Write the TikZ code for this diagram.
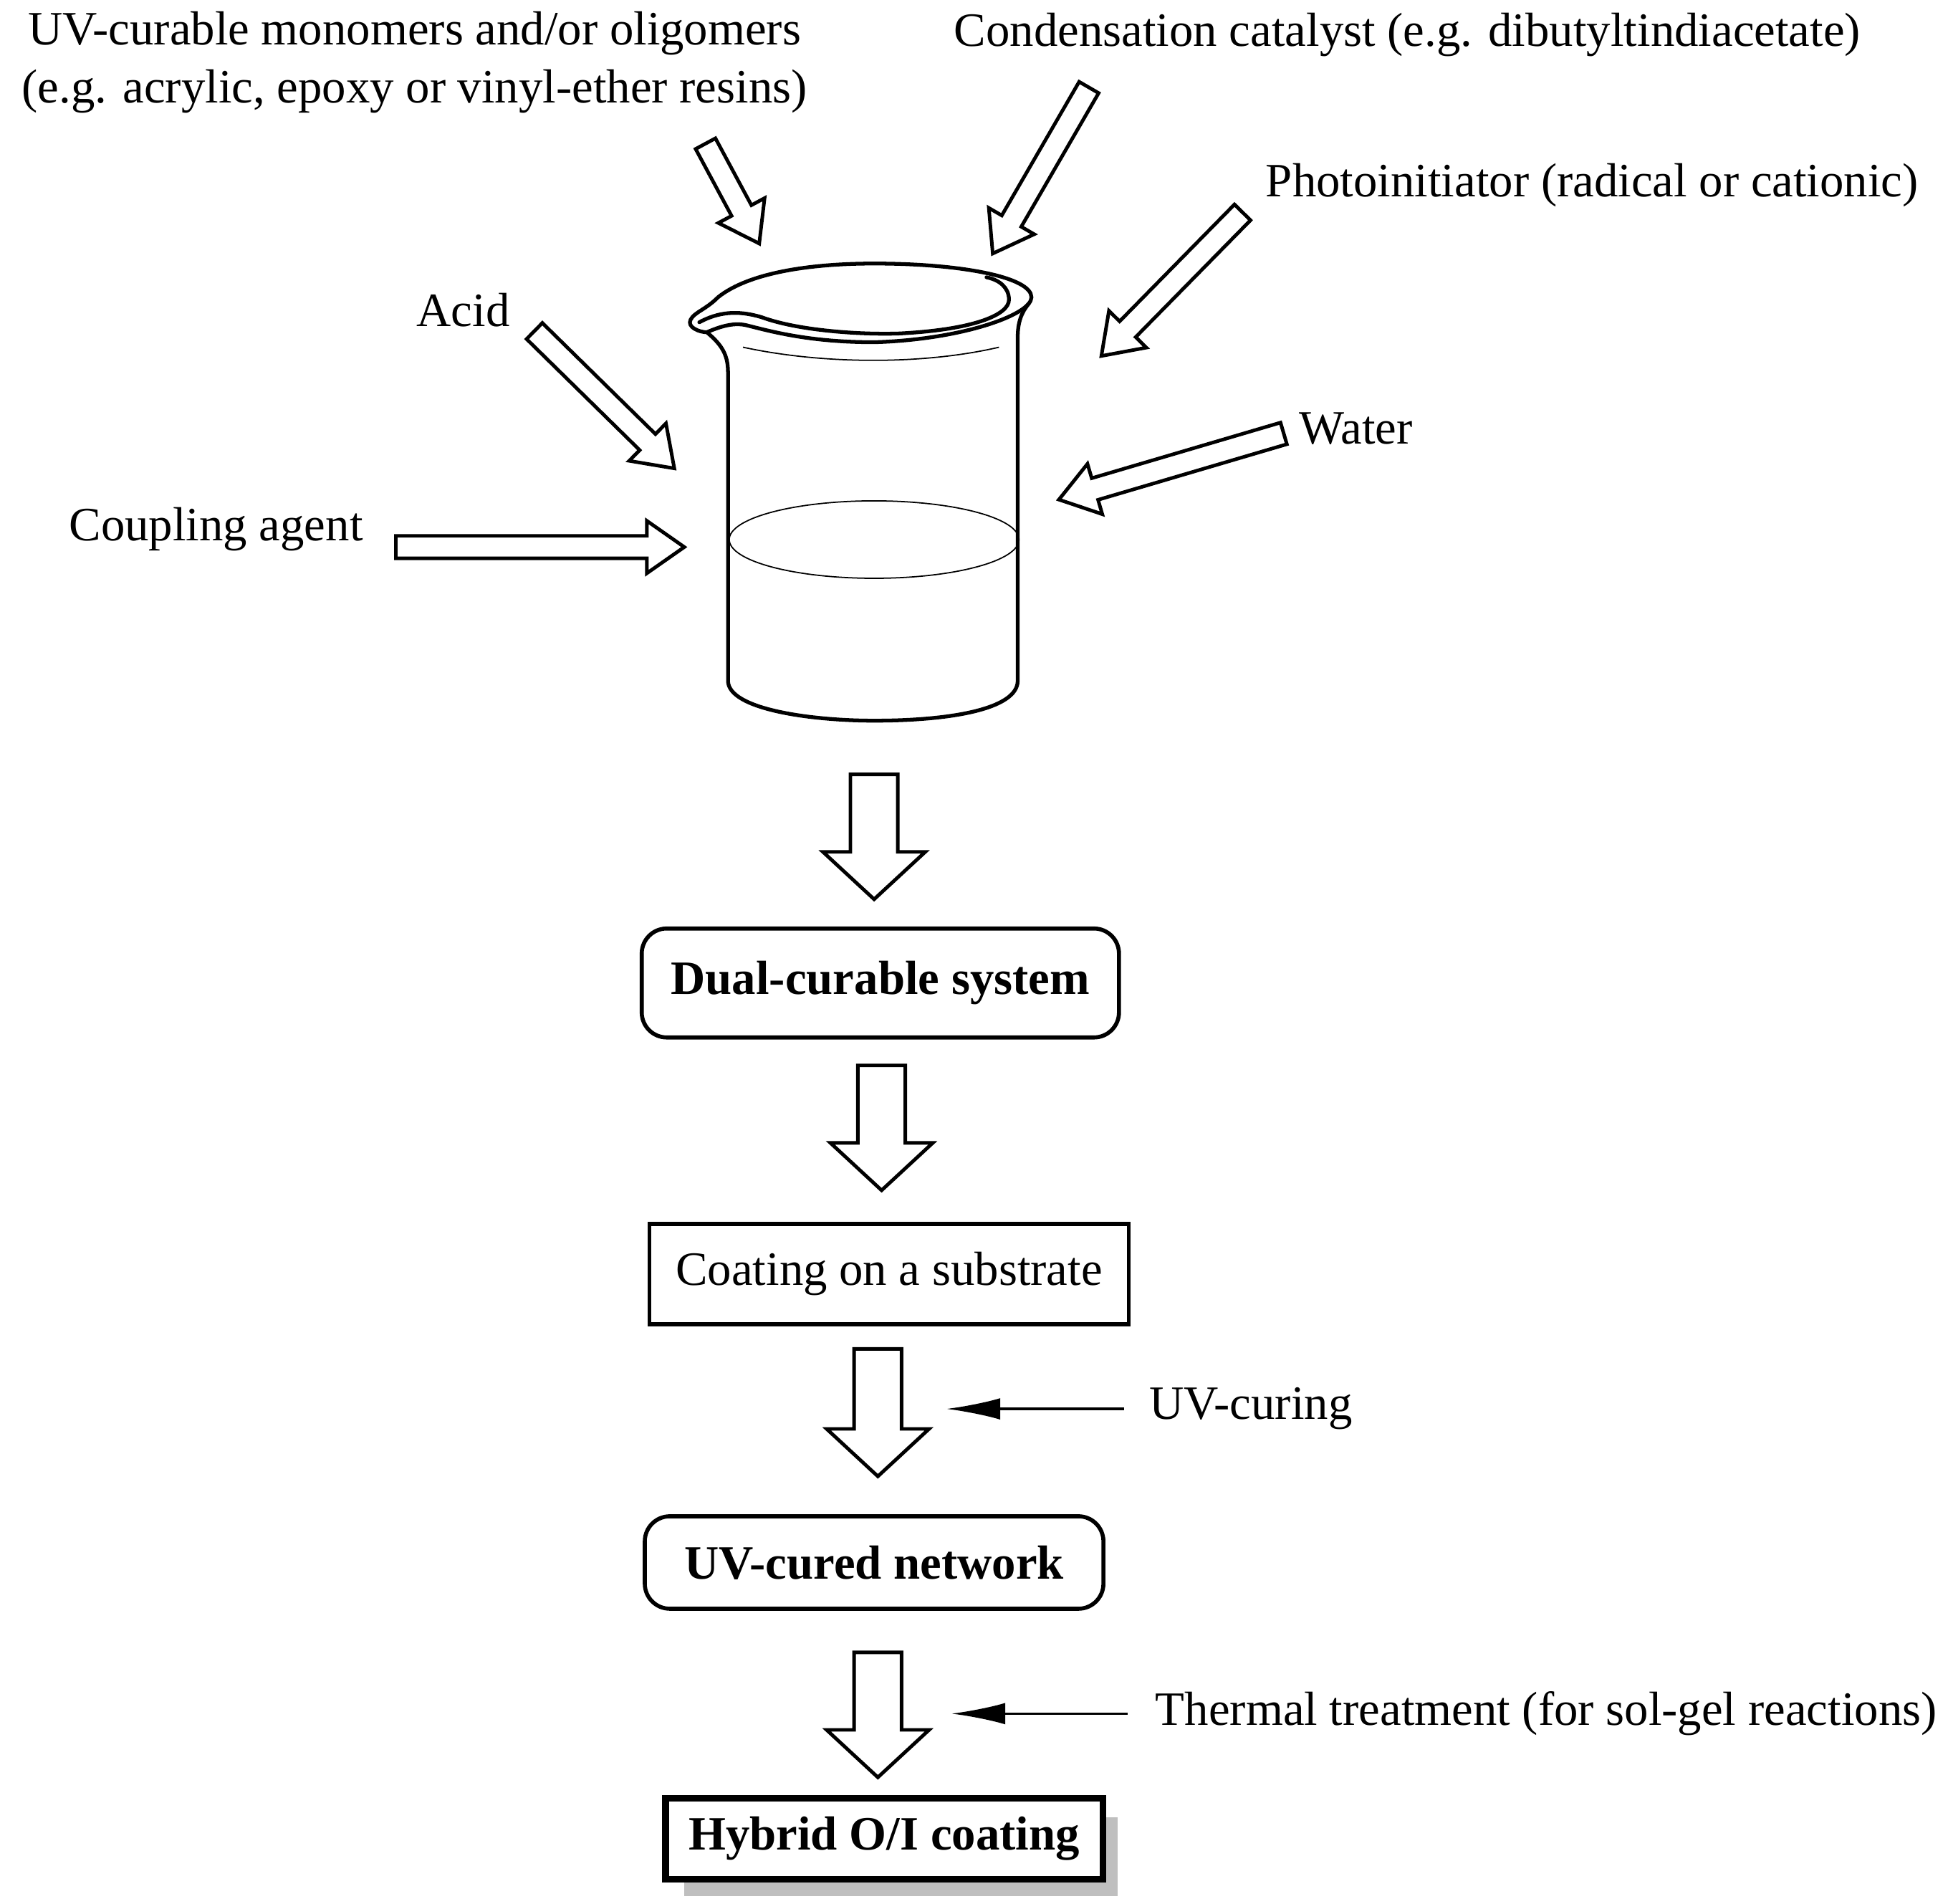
\documentclass[tikz,border=0pt]{standalone}
\usepackage{fontspec}
\setmainfont{Liberation Serif}
\usetikzlibrary{calc,arrows.meta}
\tikzset{
  lbl/.style={font=\fontsize{19}{23}\selectfont, inner sep=0pt},
  box/.style={draw, line width=1.6pt, minimum height=1.45cm, font=\fontsize{19}{23}\selectfont},
  bbox/.style={box, font=\fontsize{19}{23}\selectfont\bfseries},
  glass/.style={line width=1.5pt, line join=round, line cap=round},
  thin/.style={line width=0.5pt},
  hol/.style={draw, line width=1.4pt, fill=white, line join=miter}
}
% hollow arrow: #1 start, #2 tip, #3 shaft half width, #4 head half width, #5 head length
\newcommand\harrow[5]{%
  \coordinate (hh) at ($(#2)!#5!(#1)$);
  \draw[hol] ($(#1)!#3!90:(#2)$) -- ($(hh)!#3!90:(#2)$) -- ($(hh)!#4!90:(#2)$) -- (#2)
    -- ($(hh)!#4!-90:(#2)$) -- ($(hh)!#3!-90:(#2)$) -- ($(#1)!#3!-90:(#2)$) -- cycle;}
\newcommand\sarrow[2]{\harrow{#1}{#2}{0.157cm}{0.366cm}{0.523cm}}
\newcommand\farrow[2]{\harrow{#1}{#2}{0.331cm}{0.715cm}{0.662cm}}
\begin{document}
\begin{tikzpicture}[x=0.01743cm, y=-0.01743cm]
\useasboundingbox (0,0) rectangle (1560,1524);
% labels
\node[lbl, align=center] (uv) at (332,50) {UV-curable monomers and/or oligomers\\(e.g. acrylic, epoxy or vinyl-ether resins)};
\node[lbl] (cat) at (1127,28) {Condensation catalyst (e.g. dibutyltindiacetate)};
\node[lbl] (pho) at (1275,148) {Photoinitiator (radical or cationic)};
\node[lbl] (acid) at (371,248) {Acid};
\node[lbl] (wat) at (1086,343) {Water};
\node[lbl] (cpl) at (173,424) {Coupling agent};
% feed arrows
\coordinate (a1) at (565,115); \coordinate (b1) at (608,195);
\coordinate (a2) at (872,70);  \coordinate (b2) at (795,203);
\coordinate (a3) at (995,170); \coordinate (b3) at (882,285);
\coordinate (a4) at (428,265); \coordinate (b4) at (540,375);
\coordinate (a5) at (1028,347); \coordinate (b5) at (848,400);
\coordinate (a6) at (317,438); \coordinate (b6) at (548,438);
\sarrow{a1}{b1} \sarrow{a2}{b2} \sarrow{a3}{b3}
\sarrow{a4}{b4} \sarrow{a5}{b5} \sarrow{a6}{b6}
% beaker
\draw[glass] (566,266) .. controls (578,276) and (583,284) .. (583,298) -- (583,545)
  .. controls (583,568) and (650,577) .. (700,577) .. controls (760,577) and (815,568) .. (815,545)
  -- (815,270) .. controls (815,258) and (818,250) .. (824,243);
\draw[glass] (566,266) .. controls (560,266) and (550,262) .. (553,256)
  .. controls (556,250) and (565,248) .. (575,238)
  .. controls (600,218) and (650,211) .. (700,211) .. controls (770,211) and (826,222) .. (826,238)
  .. controls (826,252) and (770,272) .. (700,274) .. controls (650,274) and (620,266) .. (600,261)
  .. controls (590,258) and (580,260) .. (566,266);
\draw[glass] (560,258) .. controls (575,250) and (590,248) .. (610,254)
  .. controls (640,265) and (690,268) .. (720,267) .. controls (780,264) and (808,252) .. (808,240)
  .. controls (808,230) and (800,224) .. (790,222);
\draw[thin] (595,278) .. controls (660,292) and (740,292) .. (800,278);
\draw[thin] (700,432) ellipse [x radius=116, y radius=31];
% flow
\node[bbox, rounded corners=0.35cm, minimum width=6.66cm, minimum height=1.52cm] (dual) at (705,787) {Dual-curable system};
\node[box, minimum width=6.69cm, minimum height=1.4cm] (coat) at (712,1020) {Coating on a substrate};
\node[bbox, rounded corners=0.35cm, minimum width=6.4cm, minimum height=1.29cm] (uvn) at (700,1251) {UV-cured network};
\fill[gray!50] (548,1455) rectangle (895,1518);
\node[bbox, line width=2.6pt, fill=white, minimum width=6.1cm, minimum height=1.13cm] (hyb) at (708,1472) {Hybrid O/I coating};
\coordinate (f1a) at (700,620); \coordinate (f1b) at (700,720);
\coordinate (f2a) at (706,853); \coordinate (f2b) at (706,953);
\coordinate (f3a) at (703,1080); \coordinate (f3b) at (703,1182);
\coordinate (f4a) at (703,1323); \coordinate (f4b) at (703,1423);
\farrow{f1a}{f1b} \farrow{f2a}{f2b} \farrow{f3a}{f3b} \farrow{f4a}{f4b}
% process labels
\node[lbl, anchor=west] (uvc) at (920,1128) {UV-curing};
\node[lbl, anchor=west] (thr) at (925,1372) {Thermal treatment (for sol-gel reactions)};
\coordinate (t1) at (758,1128); \coordinate (t2) at (762,1372);
\draw[line width=1pt, -{Latex[length=0.75cm, width=0.3cm]}] (uvc.west) ++(-20,0) -- (t1);
\draw[line width=1pt, -{Latex[length=0.75cm, width=0.3cm]}] (thr.west) ++(-22,0) -- (t2);
\end{tikzpicture}
\end{document}
